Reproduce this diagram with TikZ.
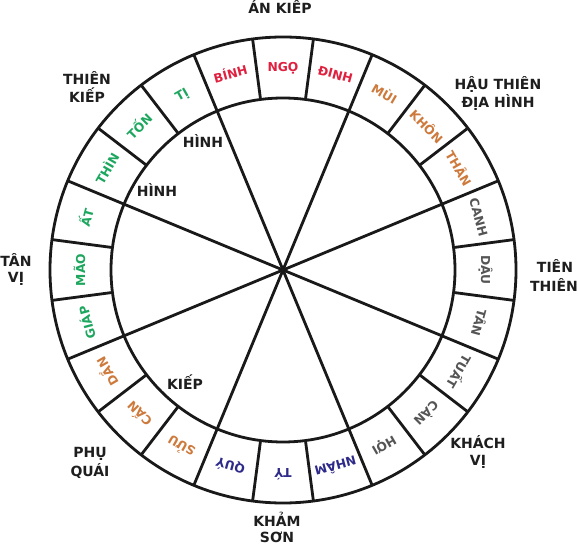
\documentclass[tikz,border=0pt]{standalone}
\usepackage{fontspec}
\setmainfont{DejaVu Sans}
\definecolor{cr}{HTML}{E0203F}
\definecolor{co}{HTML}{CD7A3C}
\definecolor{cgr}{HTML}{1DA65E}
\definecolor{cgy}{HTML}{555555}
\definecolor{cb}{HTML}{2E2A8A}
\definecolor{txt}{HTML}{1E1E1E}
\begin{document}
\begin{tikzpicture}[x=1pt,y=1pt,
  ring/.style={line width=2.8pt, draw=black!90},
  seg/.style={font=\bfseries\fontsize{12.3}{12.3}\selectfont, text height=9pt, text depth=0pt, inner sep=0pt},
  big/.style={font=\bfseries\fontsize{14}{18}\selectfont, anchor=base, inner sep=0pt, text=txt}]
\useasboundingbox (0,0) rectangle (578,544);
\fill[white] (0,0) rectangle (578,544);
\coordinate (O) at (283,274);
\begin{scope}[shift={(O)}]
  \draw[ring] (0,0) circle (233);
  \draw[ring] (0,0) circle (172);
  \foreach \k in {0,...,23} \draw[ring] ({7.5+15*\k}:172) -- ({7.5+15*\k}:233);
  \foreach \a in {22.5,67.5,112.5,157.5} \draw[ring] (\a:172) -- ({\a+180}:172);
  \foreach \t/\c [count=\i from 0] in {DẬU/cgy, CANH/cgy, THÂN/co, KHÔN/co, MÙI/co, ĐINH/cr, NGỌ/cr, BÍNH/cr, TỊ/cgr, TỐN/cgr, THÌN/cgr, ẤT/cgr, MÃO/cgr, GIÁP/cgr, DẦN/co, CẤN/co, SỬU/co, QUÝ/cb, TÝ/cb, NHÂM/cb, HỢI/cgy, CÀN/cgy, TUẤT/cgy, TÂN/cgy}
    \node[seg, text=\c, rotate={15*\i-90}] (s\i) at ({15*\i}:202.5) {\t};
\end{scope}
\node[big] (ank) at (280,530.5) {ÁN KIẾP};
\node[big] (tk1) at (87,459) {THIÊN};
\node[big] (tk2) at (87,441) {KIẾP};
\node[big] (hd1) at (498,454) {HẬU THIÊN};
\node[big] (hd2) at (498,436) {ĐỊA HÌNH};
\node[big] (tv1) at (16,277) {TÂN};
\node[big] (tv2) at (16,261) {VỊ};
\node[big] (tt1) at (555,271) {TIÊN};
\node[big] (tt2) at (554,252) {THIÊN};
\node[big] (pq1) at (90,87) {PHỤ};
\node[big] (pq2) at (90,68) {QUÁI};
\node[big] (kv1) at (478,96) {KHÁCH};
\node[big] (kv2) at (478,79) {VỊ};
\node[big] (ks1) at (277,18) {KHẢM};
\node[big] (ks2) at (277,1.5) {SƠN};
\node[big] (h1) at (203,396) {HÌNH};
\node[big] (h2) at (157,347) {HÌNH};
\node[big] (kp) at (185,155) {KIẾP};
\end{tikzpicture}
\end{document}
